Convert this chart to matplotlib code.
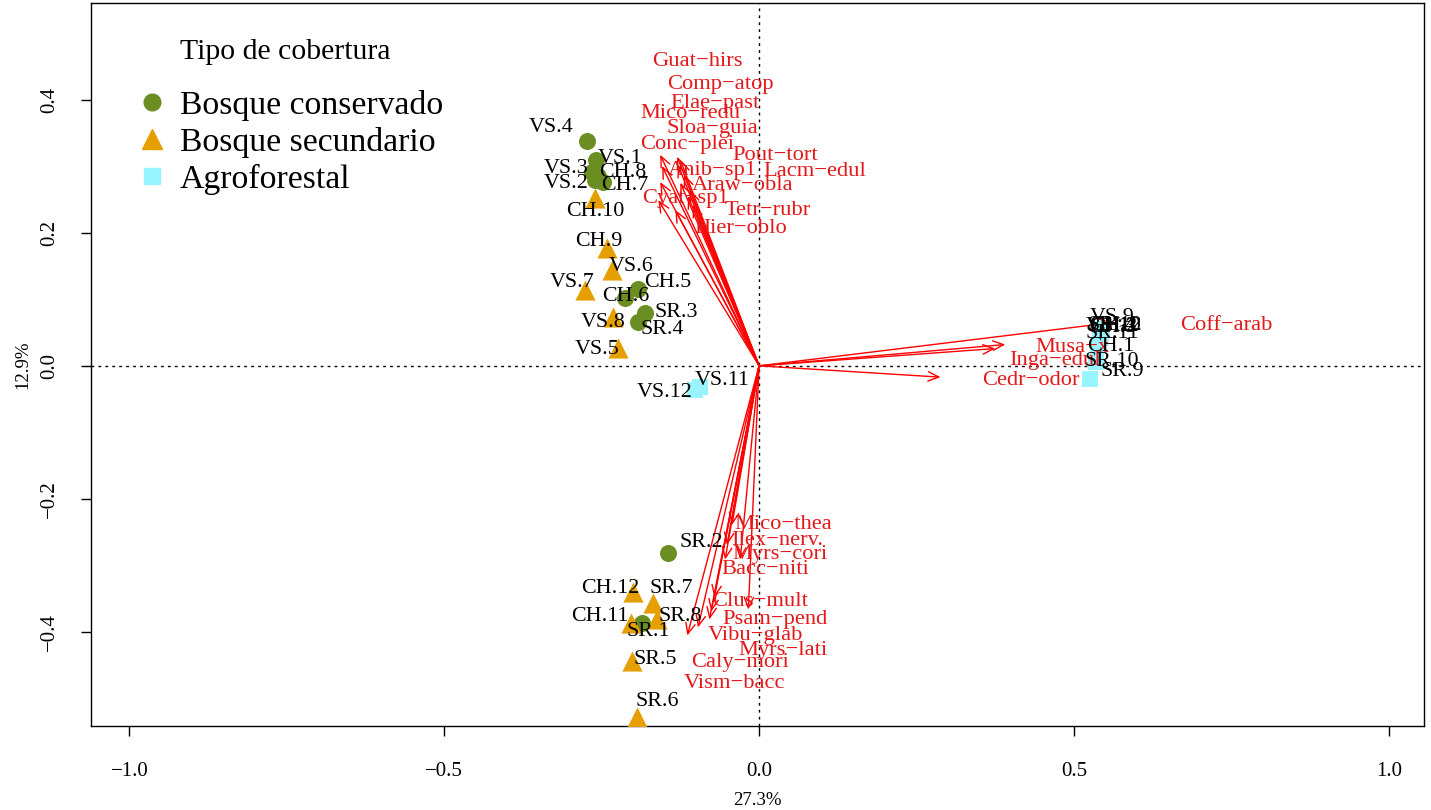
import numpy as np
import matplotlib as mpl
import matplotlib.pyplot as plt
from matplotlib.lines import Line2D

mpl.rcParams.update({
    "font.family": "serif",
    "font.serif": ["Liberation Serif", "DejaVu Serif"],
    "axes.unicode_minus": True,
})

# site scores (PC1 = 27.3%, PC2 = 12.9%)
cons_names = ["VS.1", "VS.2", "VS.3", "VS.4", "CH.5", "CH.6", "CH.7", "CH.8",
              "SR.1", "SR.2", "SR.3", "SR.4"]
cons_x = [-0.259, -0.261, -0.265, -0.273, -0.192, -0.213, -0.248, -0.256,
          -0.186, -0.145, -0.181, -0.192]
cons_y = [0.309, 0.279, 0.291, 0.338, 0.116, 0.102, 0.276, 0.285,
          -0.386, -0.281, 0.080, 0.066]

sec_names = ["VS.5", "VS.6", "VS.7", "VS.8", "CH.9", "CH.10", "CH.11", "CH.12",
             "SR.5", "SR.6", "SR.7", "SR.8"]
sec_x = [-0.224, -0.234, -0.276, -0.232, -0.241, -0.261, -0.203, -0.200,
         -0.202, -0.194, -0.168, -0.162]
sec_y = [0.027, 0.144, 0.114, 0.074, 0.177, 0.252, -0.386, -0.339,
         -0.444, -0.527, -0.356, -0.381]

agro_names = ["VS.9", "VS.10", "VS.11", "VS.12", "CH.1", "CH.2", "CH.3", "CH.4",
              "SR.9", "SR.10", "SR.11", "SR.12"]
agro_x = [0.543, 0.543, -0.094, -0.102, 0.539, 0.542, 0.543, 0.542,
          0.526, 0.535, 0.542, 0.545]
agro_y = [0.054, 0.051, -0.032, -0.036, 0.030, 0.050, 0.048, 0.053,
          -0.020, 0.006, 0.042, 0.056]

# species loadings
spp_names = ["Guat-hirs", "Comp-atop", "Elae-past", "Mico-redu", "Sloa-guia",
             "Conc-plei", "Pout-tort", "Anib-sp1", "Lacm-edul", "Araw-obla",
             "Cyat-sp1", "Tetr-rubr", "Hier-oblo",
             "Mico-thea", "Ilex-nerv.", "Myrs-cori", "Bacc-niti", "Clus-mult",
             "Psam-pend", "Vibu-glab", "Myrs-lati", "Caly-mori", "Vism-bacc",
             "Coff-arab", "Musa-x", "Inga-edul", "Cedr-odor"]
spp_x = [-0.157, -0.130, -0.125, -0.154, -0.129, -0.157, -0.119, -0.125,
         -0.110, -0.113, -0.160, -0.105, -0.133,
         -0.043, -0.051, -0.030, -0.054, -0.071, -0.076, -0.079, -0.017,
         -0.097, -0.114,
         0.562, 0.391, 0.375, 0.288]
spp_y = [0.317, 0.314, 0.309, 0.300, 0.302, 0.276, 0.287, 0.275,
         0.264, 0.255, 0.249, 0.242, 0.234,
         -0.239, -0.269, -0.291, -0.291, -0.348, -0.369, -0.381, -0.366,
         -0.393, -0.405,
         0.065, 0.032, 0.026, -0.017]

legend_title = "Tipo de cobertura"
group_labels = ["Bosque conservado", "Bosque secundario", "Agroforestal"]
group_colors = ["#6B8E23", "#E69F00", "#98F5FF"]
group_markers = ["o", "^", "s"]

# label offsets (pixels) from the point / arrow tip
site_off = {
    "VS.4": (-36, 13), "VS.1": (24, 2), "VS.3": (-26, 4), "CH.8": (25, 4),
    "VS.2": (-29, -3), "CH.7": (22, -3), "CH.5": (30, 6), "CH.6": (1, 1),
    "SR.3": (31, 0), "SR.4": (24, -8), "SR.2": (34, 10), "SR.1": (6, -9),
    "CH.10": (1, -13), "CH.9": (-9, 6), "VS.6": (19, 3), "VS.7": (-13, 7),
    "VS.8": (-10, -6), "VS.5": (-21, -2), "CH.12": (-23, 3), "SR.7": (18, 14),
    "SR.8": (23, 3), "CH.11": (-31, 6), "SR.5": (23, 2), "SR.6": (20, 15),
    "VS.11": (22, 7), "VS.12": (-30, -3), "VS.9": (11, 12), "VS.10": (13, 5),
    "CH.2": (13, 6), "CH.3": (12, 6), "CH.4": (12, 5), "SR.12": (13, 3),
    "SR.11": (12, 4), "CH.1": (12, -1), "SR.10": (16, 0), "SR.9": (32, 8),
}
spp_off = {
    "Guat-hirs": (37, 93), "Comp-atop": (43, 72), "Elae-past": (35, 57),
    "Mico-redu": (28, 53), "Sloa-guia": (35, 36), "Conc-plei": (27, 38),
    "Pout-tort": (91, 19), "Anib-sp1": (32, 12), "Lacm-edul": (125, 19),
    "Araw-obla": (55, 11), "Cyat-sp1": (27, 2), "Tetr-rubr": (75, -6),
    "Hier-oblo": (65, -18),
    "Mico-thea": (51, 0), "Ilex-nerv.": (50, 4), "Myrs-cori": (40, 5),
    "Bacc-niti": (40, -10), "Clus-mult": (46, -4), "Psam-pend": (64, -8),
    "Vibu-glab": (46, -16), "Myrs-lati": (35, -41), "Caly-mori": (42, -35),
    "Vism-bacc": (47, -48),
    "Coff-arab": (113, -3), "Musa-x": (67, -3), "Inga-edul": (60, -12),
    "Cedr-odor": (90, -3),
}

W, H = 1431, 810
fig = plt.figure(figsize=(W / 100, H / 100), dpi=100)
ax = fig.add_axes([91 / W, 1 - 726 / H, (1424 - 91) / W, 723 / H])

ax.set_xlim(-1.061, 1.056)
ax.set_ylim(-0.541, 0.545)
ax.axhline(0, color="black", ls=(0, (2, 3)), lw=1, zorder=1)
ax.axvline(0, color="black", ls=(0, (2, 3)), lw=1, zorder=1)

# arrows
for nm, x, y in zip(spp_names, spp_x, spp_y):
    ax.annotate("", xy=(x, y), xytext=(0, 0),
                arrowprops=dict(arrowstyle="->,head_length=0.45,head_width=0.2",
                                color="red", lw=1, shrinkA=0, shrinkB=0,
                                mutation_scale=17), zorder=2)
    ax.annotate(nm.replace("-", "\u2212"), xy=(x, y), xytext=spp_off[nm],
                textcoords="offset pixels", ha="center", va="center",
                color="#E31A1C", fontsize=16.2, zorder=4)

groups = [(cons_names, cons_x, cons_y), (sec_names, sec_x, sec_y),
          (agro_names, agro_x, agro_y)]
sizes = [150, 210, 120]
for (names, xs, ys), col, mk, s in zip(groups, group_colors, group_markers, sizes):
    ax.scatter(xs, ys, s=s, c=col, marker=mk, linewidths=0, zorder=3)
    for nm, x, y in zip(names, xs, ys):
        ax.annotate(nm, xy=(x, y), xytext=site_off[nm], textcoords="offset pixels",
                    ha="center", va="center", color="black", fontsize=15.8, zorder=5)

xt = [-1.0, -0.5, 0.0, 0.5, 1.0]
yt = [-0.4, -0.2, 0.0, 0.2, 0.4]
ax.set_xticks(xt)
ax.set_xticklabels([f"{v:.1f}".replace("-", "\u2212") for v in xt], fontsize=15)
ax.set_yticks(yt)
ax.set_yticklabels([f"{v:.1f}".replace("-", "\u2212") for v in yt], fontsize=15,
                   rotation=90, va="center")
ax.tick_params(axis="both", direction="out", length=7, width=1)
ax.tick_params(axis="x", pad=19)
ax.tick_params(axis="y", pad=16)
ax.set_xlabel("27.3%", fontsize=13.5, labelpad=8)
ax.set_ylabel("12.9%", fontsize=13.5, labelpad=6)
for sp in ax.spines.values():
    sp.set_linewidth(1)

handles = [Line2D([], [], ls="none", marker=m, color=c, markersize=ms)
           for m, c, ms in zip(group_markers, group_colors, [12, 14, 11])]
ax.legend(handles, group_labels, loc="upper left",
          bbox_to_anchor=(0.033, 0.880), frameon=False, fontsize=24.3,
          handlelength=1.0, handletextpad=0.33,
          labelspacing=0.18, borderpad=0, borderaxespad=0)
ax.text(0.1455, 0.932, legend_title, transform=ax.transAxes, ha="center",
        va="center", fontsize=21.4)

fig.savefig("out.png", dpi=100)
